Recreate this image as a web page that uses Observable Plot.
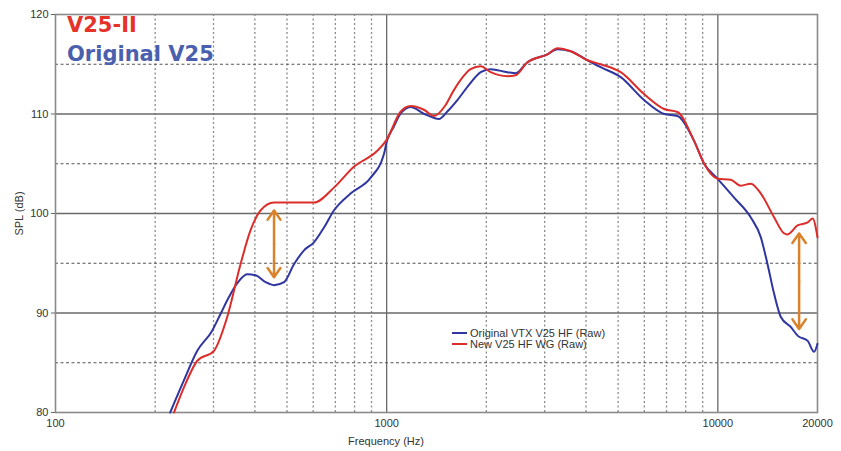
<!DOCTYPE html>
<html><head><meta charset="utf-8">
<script src="https://cdn.jsdelivr.net/npm/d3@7"></script>
<script src="https://cdn.jsdelivr.net/npm/@observablehq/plot@0.6"></script>
<style>
body{margin:0;background:#fff;}
#wrap{position:relative;width:841px;height:451px;font-family:"Liberation Sans",Arial,sans-serif;}
.ov{position:absolute;white-space:nowrap;line-height:1;}
.title{font-family:"DejaVu Sans";font-weight:bold;font-size:21px;}
.leg{font-size:11px;color:#333;}
.sw{display:inline-block;width:15px;height:2px;vertical-align:middle;margin-right:3px;position:relative;top:-1px;}
</style></head>
<body><div id="wrap"></div>
<script>
// ---- data ----
const blueFreq = [222,244,268,297,315,334,354,379,402,431,457,490,525,563,603,647,693,778,895,982,1000,1050,1100,1182,1300,1438,1530,1635,1780,1923,2061,2316,2453,2661,3059,3279,3597,4040,4431,5093,5988,6884,7553,8479,9093,9979,11200,12580,13490,14130,14800,15500,16600,17450,18680,19530,20000];
const blueDb   = [80.0,83.2,86.2,88.2,89.9,91.6,93.0,93.9,93.8,93.1,92.8,93.1,94.9,96.3,97.1,98.6,100.3,102.0,103.6,106.0,107.2,108.7,110.0,110.7,110.0,109.5,110.3,111.4,113.0,114.2,114.5,114.2,114.1,115.2,116.0,116.5,116.3,115.4,114.7,113.7,111.4,110.0,109.8,107.3,105.0,103.5,101.6,99.6,97.6,94.9,91.9,89.6,88.6,87.7,87.2,86.1,86.9];
const redFreq  = [228,247,268,301,330,362,388,416,457,501,603,693,796,937,1000,1100,1182,1300,1389,1500,1596,1793,1923,2061,2316,2453,2661,3059,3279,3597,4040,4431,5093,5988,6884,7553,8479,9093,9979,10940,11735,12580,13490,14800,15860,16240,17410,18680,19340,20000];
const redDb    = [80.0,82.9,85.2,86.2,89.6,94.9,98.3,100.3,101.1,101.1,101.1,102.6,104.7,106.3,107.4,110.2,110.8,110.4,109.8,110.8,112.4,114.5,114.8,114.2,113.8,113.9,115.2,116.0,116.6,116.3,115.4,115.0,114.2,112.0,110.5,110.2,107.3,105.0,103.5,103.4,102.8,103.0,102.0,99.6,98.0,97.9,98.8,99.1,99.5,97.6];
const seriesNames = ["Original VTX V25 HF (Raw)", "New V25 HF WG (Raw)"];
const titles = ["V25-II", "Original V25"];
const xTickLabels = [100, 1000, 10000, 20000];
const yTicks = [80, 90, 100, 110, 120];
const xMinor = [200,300,400,500,600,700,800,900,2000,3000,4000,5000,6000,7000,8000,9000];
const xMajor = [1000, 10000];
const yMajor = [90, 100, 110];
const yMinor = [85, 95, 105, 115];
const arrowFreq = [457, 17600];
const arrowTop = [100.3, 98.0];
const arrowBottom = [93.6, 88.4];

// ---- tables ----
const blue = blueFreq.map((f, i) => ({f, db: blueDb[i]}));
const red = redFreq.map((f, i) => ({f, db: redDb[i]}));
const arrowsUp = arrowFreq.map((f, i) => ({f, from: (arrowTop[i] + arrowBottom[i]) / 2, to: arrowTop[i]}));
const arrowsDown = arrowFreq.map((f, i) => ({f, from: (arrowTop[i] + arrowBottom[i]) / 2, to: arrowBottom[i]}));

const BLUE = "#2f36a0", RED = "#db2e2b", ORANGE = "#d9822b";

const chart = Plot.plot({
  width: 841, height: 451,
  marginLeft: 55, marginRight: 24, marginTop: 14, marginBottom: 39,
  x: {type: "log", domain: [100, 20000]},
  y: {domain: [80, 120]},
  style: {fontFamily: "Liberation Sans, Arial, sans-serif", fontSize: "11px", color: "#333", background: "#fff"},
  marks: [
    Plot.ruleX(xMinor, {stroke: "#8a8a8a", strokeWidth: 1.3, strokeDasharray: "2,2.5"}),
    Plot.ruleY(yMinor, {stroke: "#555", strokeWidth: 1.2, strokeDasharray: "3,2.5"}),
    Plot.ruleY(yMajor, {stroke: "#6a6a6a", strokeWidth: 1.3}),
    Plot.ruleX(xMajor, {stroke: "#6a6a6a", strokeWidth: 1.3}),
    Plot.frame({stroke: "#8a8a8a", strokeWidth: 1.6}),
    Plot.line(blue, {x: "f", y: "db", stroke: BLUE, strokeWidth: 2, curve: "monotone-x"}),
    Plot.line(red, {x: "f", y: "db", stroke: RED, strokeWidth: 2, curve: "monotone-x"}),
    Plot.arrow(arrowsUp, {x1: "f", x2: "f", y1: "from", y2: "to", stroke: ORANGE, strokeWidth: 2.5, headLength: 7, headAngle: 70}),
    Plot.arrow(arrowsDown, {x1: "f", x2: "f", y1: "from", y2: "to", stroke: ORANGE, strokeWidth: 2.5, headLength: 7, headAngle: 70}),
    Plot.axisX(xTickLabels, {tickSize: 0, tickPadding: 7, label: null, tickFormat: d => String(d)}),
    Plot.axisY(yTicks, {tickSize: 4, tickPadding: 3, stroke: "#666", label: "SPL (dB)", labelAnchor: "center", labelArrow: "none", labelOffset: 40})
  ]
});

const wrap = document.getElementById("wrap");
wrap.appendChild(chart);

function add(html, css, cls) {
  const d = document.createElement("div");
  d.className = "ov " + (cls || "");
  d.innerHTML = html;
  Object.assign(d.style, css);
  wrap.appendChild(d);
}
add(titles[0], {left: "67px", top: "15px", color: "#e5332a"}, "title");
add(titles[1], {left: "67px", top: "44px", color: "#4a60ae"}, "title");
add("Frequency (Hz)", {left: "386px", top: "436px", transform: "translateX(-50%)", fontSize: "11px", color: "#333"});
add(`<span class="sw" style="background:${BLUE}"></span>${seriesNames[0]}`, {left: "452px", top: "328px", lineHeight: "10px"}, "leg");
add(`<span class="sw" style="background:${RED}"></span>${seriesNames[1]}`, {left: "452px", top: "339px", lineHeight: "10px"}, "leg");
</script>
</body></html>
